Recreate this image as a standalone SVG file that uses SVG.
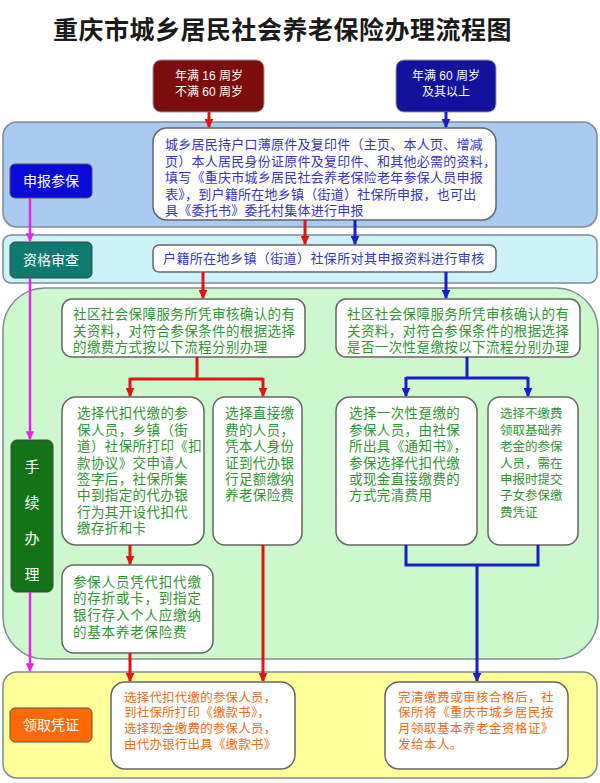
<svg xmlns="http://www.w3.org/2000/svg" width="600" height="783" viewBox="0 0 600 783">
<defs>
<style>
text{font-family:"Liberation Sans","Noto Sans CJK SC",sans-serif;}
.title{font-size:25px;font-weight:700;fill:#1a1a1a;letter-spacing:0.5px;}
.band{stroke:#7f8a95;stroke-width:1.5;}
.wbox{fill:#ffffff;stroke:#666;stroke-width:1.5;}
.tb{font-size:13px;fill:#3434c8;letter-spacing:0.25px;}
.tg{font-size:13.5px;fill:#2f962f;letter-spacing:0.4px;}
.to{font-size:12.5px;fill:#f26a12;letter-spacing:0.2px;}
.tw{font-size:12px;fill:#ffffff;text-anchor:middle;}
.tl{font-size:14px;fill:#ffffff;text-anchor:middle;}
.red{stroke:#e01414;stroke-width:3;fill:none;}
.blue{stroke:#1c1cc8;stroke-width:3;fill:none;}
.mag{stroke:#e428e4;stroke-width:2.5;fill:none;}
</style>
<marker id="ar" viewBox="0 0 10 10" refX="9" refY="5" markerWidth="3" markerHeight="3" orient="auto" markerUnits="strokeWidth"><path d="M0,0 L10,5 L0,10 z" fill="#e01414"/></marker>
<marker id="ab" viewBox="0 0 10 10" refX="9" refY="5" markerWidth="3" markerHeight="3" orient="auto" markerUnits="strokeWidth"><path d="M0,0 L10,5 L0,10 z" fill="#1c1cc8"/></marker>
<marker id="am" viewBox="0 0 10 10" refX="9" refY="5" markerWidth="3.5" markerHeight="3.5" orient="auto" markerUnits="strokeWidth"><path d="M0,0 L10,5 L0,10 z" fill="#e428e4"/></marker>
</defs>
<rect width="600" height="783" fill="#ffffff"/>
<text class="title" x="53" y="39">重庆市城乡居民社会养老保险办理流程图</text>

<g id="bands">
<rect class="band" x="3" y="122" width="594" height="105" rx="14" fill="#a9cbf1"/>
<rect class="band" x="3" y="235" width="594" height="48" rx="8" fill="#cdf2f9"/>
<rect class="band" x="3" y="288" width="595" height="371" rx="42" fill="#cdf7cd"/>
<rect class="band" x="3" y="672" width="594" height="106" rx="14" fill="#ffff99"/>
</g>

<g id="start-young">
<rect x="153" y="60" width="111" height="52" rx="8" fill="#7d0d0d" stroke="#999" stroke-width="1"/>
<text class="tw"><tspan x="209" y="80">年满 16 周岁</tspan><tspan x="209" y="96">不满 60 周岁</tspan></text>
</g>
<g id="start-old">
<rect x="396" y="60" width="100" height="52" rx="8" fill="#12129c" stroke="#999" stroke-width="1"/>
<text class="tw"><tspan x="446" y="80">年满 60 周岁</tspan><tspan x="446" y="96">及其以上</tspan></text>
</g>

<g id="label-apply">
<rect x="10" y="164" width="82" height="34" rx="5" fill="#0a0ad8" stroke="#555" stroke-width="1"/>
<text class="tl" x="51" y="186">申报参保</text>
</g>
<g id="label-review">
<rect x="10" y="242" width="82" height="36" rx="5" fill="#0f7a72" stroke="#444" stroke-width="1"/>
<text class="tl" x="51" y="265">资格审查</text>
</g>
<g id="label-process">
<rect x="11" y="440" width="42" height="152" rx="6" fill="#137316" stroke="#444" stroke-width="1"/>
<text class="tl" style="font-size:15px"><tspan x="32" y="472">手</tspan><tspan x="32" y="508">续</tspan><tspan x="32" y="544">办</tspan><tspan x="32" y="580">理</tspan></text>
</g>
<g id="label-receive">
<rect x="10" y="708" width="82" height="34" rx="5" fill="#ff6a05" stroke="#555" stroke-width="1"/>
<text class="tl" x="51" y="730">领取凭证</text>
</g>

<g id="apply">
<rect class="wbox" x="153" y="128" width="343" height="92" rx="14"/>
<text class="tb"><tspan x="165" y="149">城乡居民持户口薄原件及复印件（主页、本人页、增减</tspan><tspan x="165" y="165.5">页）本人居民身份证原件及复印件、和其他必需的资料，</tspan><tspan x="165" y="182">填写《重庆市城乡居民社会养老保险老年参保人员申报</tspan><tspan x="165" y="198.5">表》，到户籍所在地乡镇（街道）社保所申报，也可出</tspan><tspan x="165" y="215">具《委托书》委托村集体进行申报</tspan></text>
</g>

<g id="review">
<rect class="wbox" x="153" y="245" width="343" height="27" rx="6"/>
<text class="tb" x="163" y="263" style="letter-spacing:0.4px">户籍所在地乡镇（街道）社保所对其申报资料进行审核</text>
</g>

<g id="process-left">
<rect class="wbox" x="62" y="299" width="243" height="58" rx="10"/>
<text class="tg"><tspan x="73" y="319">社区社会保障服务所凭审核确认的有</tspan><tspan x="73" y="336">关资料，对符合参保条件的根据选择</tspan><tspan x="73" y="352">的缴费方式按以下流程分别办理</tspan></text>
</g>
<g id="process-right">
<rect class="wbox" x="336" y="299" width="244" height="58" rx="10"/>
<text class="tg"><tspan x="347" y="319">社区社会保障服务所凭审核确认的有</tspan><tspan x="347" y="336">关资料，对符合参保条件的根据选择</tspan><tspan x="347" y="352">是否一次性趸缴按以下流程分别办理</tspan></text>
</g>

<g id="option-deduct">
<rect class="wbox" x="62" y="397" width="142" height="148" rx="14"/>
<text class="tg"><tspan x="77" y="418">选择代扣代缴的参</tspan><tspan x="77" y="434.5">保人员，乡镇（街</tspan><tspan x="77" y="451">道）社保所打印《扣</tspan><tspan x="77" y="467.5">款协议》交申请人</tspan><tspan x="77" y="484">签字后，社保所集</tspan><tspan x="77" y="500">中到指定的代办银</tspan><tspan x="77" y="516.5">行为其开设代扣代</tspan><tspan x="77" y="533">缴存折和卡</tspan></text>
</g>
<g id="option-direct">
<rect class="wbox" x="213" y="397" width="89" height="148" rx="12"/>
<text class="tg"><tspan x="225" y="418">选择直接缴</tspan><tspan x="225" y="434.5">费的人员，</tspan><tspan x="225" y="451">凭本人身份</tspan><tspan x="225" y="467.5">证到代办银</tspan><tspan x="225" y="484">行足额缴纳</tspan><tspan x="225" y="500">养老保险费</tspan></text>
</g>
<g id="option-lump">
<rect class="wbox" x="336" y="397" width="141" height="148" rx="14"/>
<text class="tg"><tspan x="349" y="418">选择一次性趸缴的</tspan><tspan x="349" y="434.5">参保人员，由社保</tspan><tspan x="349" y="451">所出具《通知书》，</tspan><tspan x="349" y="467.5">参保选择代扣代缴</tspan><tspan x="349" y="484">或现金直接缴费的</tspan><tspan x="349" y="500">方式完清费用</tspan></text>
</g>
<g id="option-none">
<rect class="wbox" x="488" y="397" width="90" height="148" rx="12"/>
<text class="tg" style="font-size:12.5px;letter-spacing:0"><tspan x="500" y="418">选择不缴费</tspan><tspan x="500" y="434.5">领取基础养</tspan><tspan x="500" y="451">老金的参保</tspan><tspan x="500" y="467.5">人员，需在</tspan><tspan x="500" y="484">申报时提交</tspan><tspan x="500" y="500">子女参保缴</tspan><tspan x="500" y="516.5">费凭证</tspan></text>
</g>
<g id="deposit">
<rect class="wbox" x="62" y="565" width="151" height="88" rx="12"/>
<text class="tg" style="letter-spacing:0.8px"><tspan x="73" y="587">参保人员凭代扣代缴</tspan><tspan x="73" y="603">的存折或卡，到指定</tspan><tspan x="73" y="620">银行存入个人应缴纳</tspan><tspan x="73" y="637">的基本养老保险费</tspan></text>
</g>

<g id="receive-left">
<rect class="wbox" x="111" y="682" width="184" height="87" rx="14"/>
<text class="to"><tspan x="124" y="702">选择代扣代缴的参保人员，</tspan><tspan x="124" y="717">到社保所打印《缴款书》，</tspan><tspan x="124" y="733">选择现金缴费的参保人员，</tspan><tspan x="124" y="749">由代办银行出具《缴款书》</tspan></text>
</g>
<g id="receive-right">
<rect class="wbox" x="385" y="682" width="183" height="87" rx="14"/>
<text class="to" style="letter-spacing:0.5px"><tspan x="398" y="702">完清缴费或审核合格后，社</tspan><tspan x="398" y="717">保所将《重庆市城乡居民按</tspan><tspan x="398" y="733">月领取基本养老金资格证》</tspan><tspan x="398" y="749">发给本人。</tspan></text>
</g>

<g id="connectors">
<path class="red" d="M209,112 V127" marker-end="url(#ar)"/>
<path class="blue" d="M446,112 V127" marker-end="url(#ab)"/>
<path class="red" d="M305,220 V244" marker-end="url(#ar)"/>
<path class="blue" d="M355,220 V244" marker-end="url(#ab)"/>
<path class="red" d="M203,272 V298" marker-end="url(#ar)"/>
<path class="blue" d="M446,272 V298" marker-end="url(#ab)"/>
<path class="red" d="M197,357 V379 M130,379 H263"/>
<path class="red" d="M130,378 V396" marker-end="url(#ar)"/>
<path class="red" d="M263,378 V396" marker-end="url(#ar)"/>
<path class="blue" d="M467,357 V378 M406,378 H528"/>
<path class="blue" d="M406,377 V396" marker-end="url(#ab)"/>
<path class="blue" d="M528,377 V396" marker-end="url(#ab)"/>
<path class="red" d="M130,545 V564" marker-end="url(#ar)"/>
<path class="red" d="M130,653 V681" marker-end="url(#ar)"/>
<path class="red" d="M263,545 V681" marker-end="url(#ar)"/>
<path class="blue" d="M406,545 V565 H538 V545"/>
<path class="blue" d="M477,565 V681" marker-end="url(#ab)"/>
<path class="mag" d="M30,198 V241" marker-end="url(#am)"/>
<path class="mag" d="M30,278 V439" marker-end="url(#am)"/>
<path class="mag" d="M30,592 V671" marker-end="url(#am)"/>
</g>
</svg>
